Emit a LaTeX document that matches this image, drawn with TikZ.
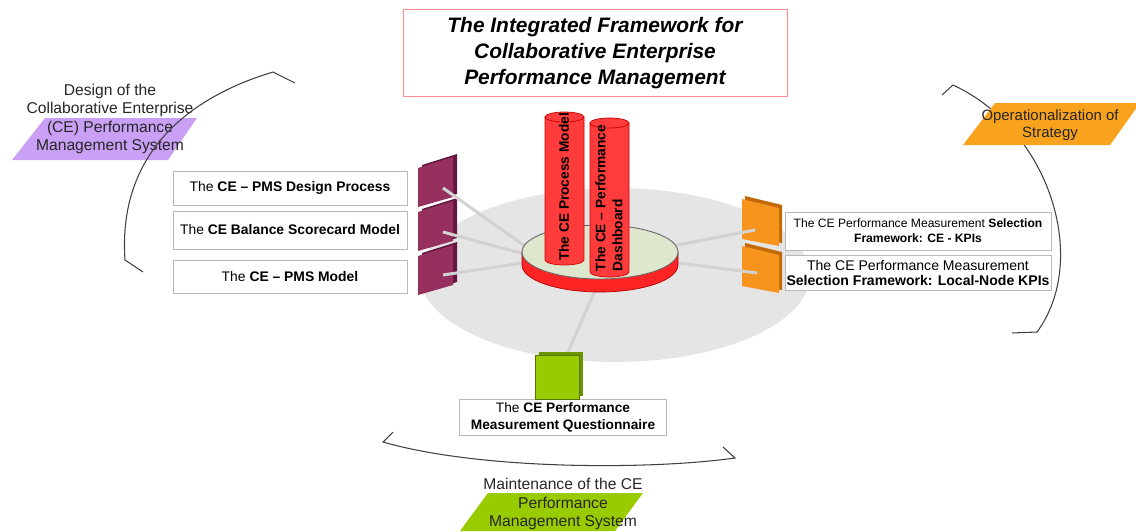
\documentclass[tikz,border=0pt]{standalone}
\usepackage{fontspec}
\setmainfont{Liberation Sans}
\usetikzlibrary{shapes.geometric}

\definecolor{plum}{HTML}{96305F}
\definecolor{plumdark}{HTML}{65183F}
\definecolor{amber}{HTML}{F7941D}
\definecolor{amberdark}{HTML}{C26A08}
\definecolor{leaf}{HTML}{99CC00}
\definecolor{leafdark}{HTML}{6A9400}
\definecolor{lavender}{HTML}{C9A0F5}
\definecolor{tangerine}{HTML}{F8A21E}
\definecolor{cylred}{HTML}{FF3B3B}
\definecolor{rimred}{HTML}{FF2424}
\definecolor{disktop}{HTML}{DEE7CE}

\begin{document}
\begin{tikzpicture}[x=0.02cm,y=-0.02cm,
    box/.style={draw=gray!55,fill=white,align=center,inner sep=0pt,font=\fontsize{7.9}{9.4}\selectfont},
    tag/.style={align=center,inner sep=0pt,text=black!85,font=\fontsize{8.9}{10.4}\selectfont},
    link/.style={line width=1.7pt,gray!35},
    bracket/.style={line width=0.6pt,black!75},
    cyl/.style={fill=cylred,draw=red!80!black,line width=0.4pt},
    coltext/.style={rotate=90,align=left,inner sep=0pt,font=\fontsize{7.8}{9.6}\selectfont\bfseries}]

    \useasboundingbox (0,0) rectangle (1136,531);

    % grey plate under the hub
    \fill[black!10] (615,275) ellipse [x radius=3.9cm,y radius=1.74cm];

    % phase labels
    \fill[lavender] (45,118) -- (197,118) -- (168,160) -- (12,160) -- cycle;
    \node[tag] (design) at (110,119) {Design of the\\Collaborative Enterprise\\(CE) Performance\\Management System};
    \fill[leaf] (488,493) -- (643,493) -- (615,531) -- (460,531) -- cycle;
    \node[tag] (maintain) at (563,504) {Maintenance of the CE\\Performance\\Management System};

    % brackets
    \draw[bracket] (295,83) -- (273,72) .. controls (180,100) and (118,160) .. (125,260) -- (143,272); % design
    \draw[bracket] (942,95) -- (953,85) .. controls (1050,130) and (1090,260) .. (1037,332) -- (1012,333); % strategy
    \draw[bracket] (393,432) -- (383,442) .. controls (480,470) and (650,470) .. (735,458) -- (723,447); % maintenance

    \fill[tangerine] (995,103) -- (1140,103) -- (1110,145) -- (963,145) -- cycle;
    \node[tag,font=\fontsize{8.5}{9.8}\selectfont] (strategy) at (1050,125) {Operationalization of\\Strategy};

    % title
    \node[draw=red!45,fill=white,minimum width=7.68cm,minimum height=1.74cm,align=center,
        font=\fontsize{11.9}{14.8}\selectfont\bfseries\itshape] (title) at (595,53)
        {The Integrated Framework for\\Collaborative Enterprise\\Performance Management};

    % component boxes
    \node[box,minimum width=4.68cm,minimum height=0.68cm] (pmsdesign) at (290,188) {The \textbf{CE -- PMS Design Process}};
    \node[box,minimum width=4.68cm,minimum height=0.76cm] (bsc) at (290,230) {The \textbf{CE Balance Scorecard Model}};
    \node[box,minimum width=4.68cm,minimum height=0.66cm] (pmsmodel) at (290,277) {The \textbf{CE -- PMS Model}};
    \node[box,minimum width=5.32cm,minimum height=0.76cm,font=\fontsize{6.9}{8.6}\selectfont] (cekpi) at (918,231)
        {The CE Performance Measurement \textbf{Selection}\\\textbf{Framework: CE - KPIs}};
    \node[box,minimum width=5.32cm,minimum height=0.70cm,font=\fontsize{8}{8.8}\selectfont] (localkpi) at (918,273)
        {The CE Performance Measurement\\\textbf{Selection Framework: Local-Node KPIs}};
    \node[box,minimum width=4.14cm,minimum height=0.72cm,font=\fontsize{7.8}{9.6}\selectfont] (quest) at (563,417)
        {The \textbf{CE Performance}\\\textbf{Measurement Questionnaire}};

    \node[ellipse,minimum width=3.12cm,minimum height=1.08cm,inner sep=0pt] (hub) at (600,252) {};

    % slabs
    \foreach \y in {168,212,256} {
        \fill[plumdark] (422,\y-3) -- (457,\y-14) -- (457,\y+26) -- (422,\y+37) -- cycle;
        \fill[plum] (418,\y) -- (453,\y-11) -- (453,\y+29) -- (418,\y+39) -- cycle;
    }
    \foreach \y in {199,246} {
        \fill[amberdark] (745,\y-3) -- (782,\y+6) -- (782,\y+44) -- (745,\y+37) -- cycle;
        \fill[amber] (742,\y) -- (779,\y+9) -- (779,\y+47) -- (742,\y+40) -- cycle;
    }
    \coordinate (slab-design) at (443,188);
    \coordinate (slab-bsc) at (443,232);
    \coordinate (slab-model) at (443,275);
    \coordinate (slab-cekpi) at (755,230);
    \coordinate (slab-local) at (757,273);
    \coordinate (slab-quest) at (557,377);

    \draw[link] (slab-design) -- (hub.175);
    \draw[link] (slab-bsc) -- (hub.181);
    \draw[link] (slab-model) -- (hub.188);
    \draw[link] (slab-cekpi) -- (hub.5);
    \draw[link] (slab-local) -- (hub.352);
    \draw[link] (slab-quest) -- (hub.south);

    % hub disk
    \filldraw[fill=rimred,draw=red!70!black,line width=0.4pt] (522,252) -- (522,265)
        arc [start angle=180,end angle=360,x radius=1.56cm,y radius=0.54cm] -- (678,252) -- cycle;
    \filldraw[fill=disktop,draw=black!60,line width=0.5pt] (hub.center) ellipse [x radius=1.56cm,y radius=0.54cm];

    % columns
    \filldraw[cyl] (545,117) -- (545,260) arc [start angle=180,end angle=360,x radius=0.39cm,y radius=0.1cm] -- (584,117) -- cycle;
    \filldraw[cyl] (564.5,117) ellipse [x radius=0.39cm,y radius=0.1cm];
    \filldraw[cyl] (590,123) -- (590,272) arc [start angle=180,end angle=360,x radius=0.39cm,y radius=0.1cm] -- (629,123) -- cycle;
    \filldraw[cyl] (609.5,123) ellipse [x radius=0.39cm,y radius=0.1cm];
    \node[coltext] (procmodel) at (564,187) {The CE Process Model};
    \node[coltext] (dashboard) at (609,198) {The CE -- Performance\\Dashboard};

    % questionnaire block
    \fill[leafdark] (539,352) rectangle (583,396);
    \filldraw[fill=leaf,draw=leafdark!80!black,line width=0.4pt] (535,355) rectangle (579,399);

\end{tikzpicture}
\end{document}
